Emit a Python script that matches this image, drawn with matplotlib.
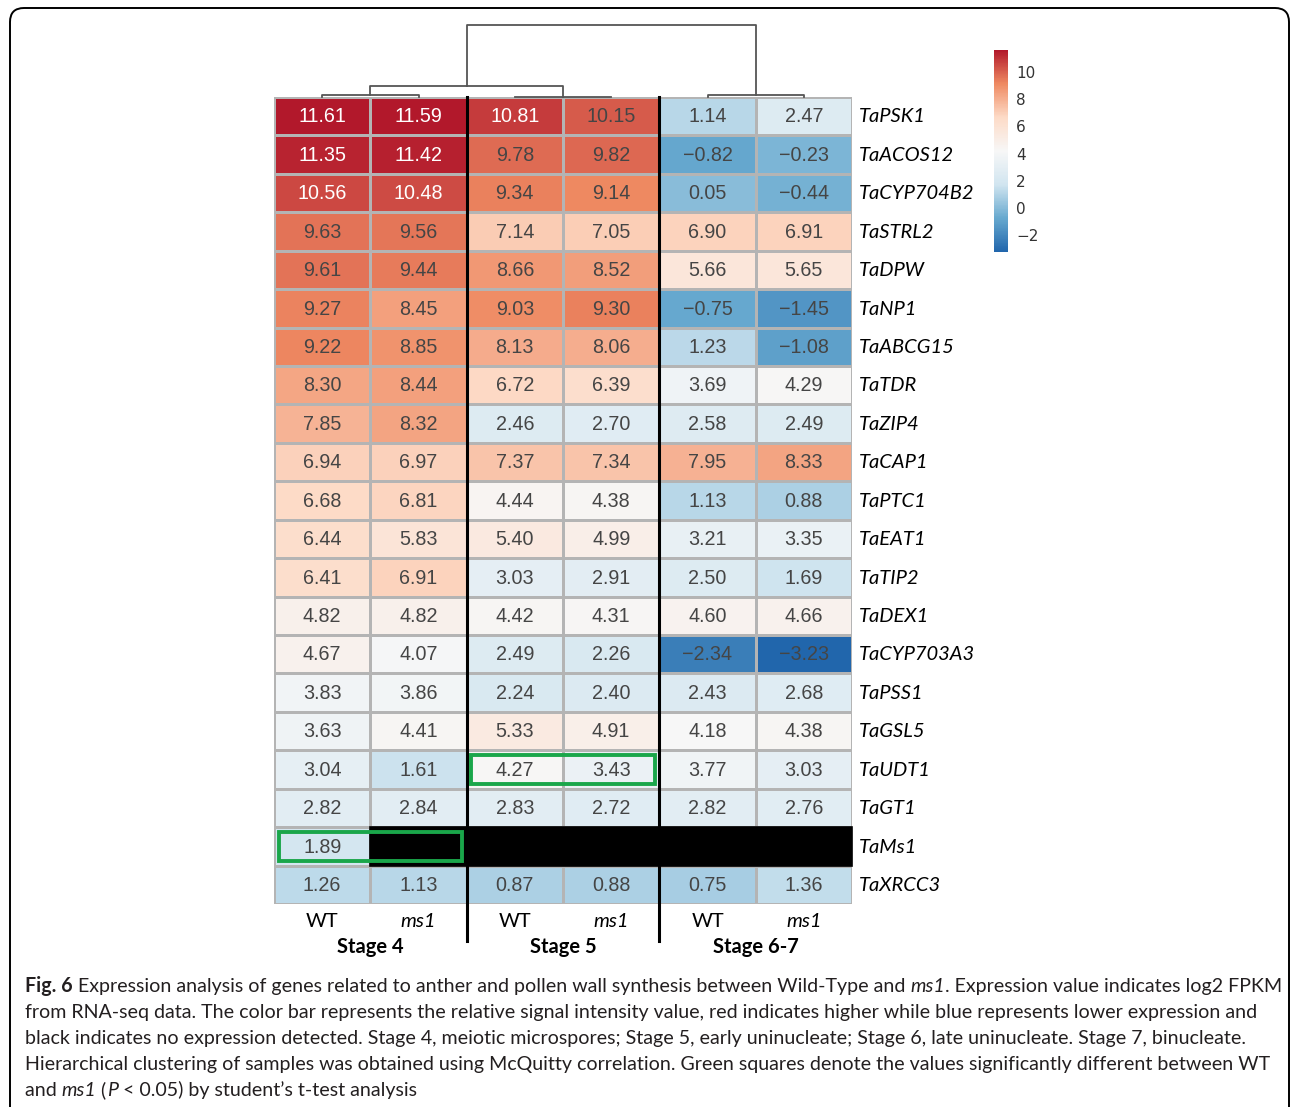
import numpy as np
import matplotlib
matplotlib.use("Agg")
import matplotlib.pyplot as plt
from matplotlib.colors import LinearSegmentedColormap
from matplotlib.patches import FancyBboxPatch, Rectangle
from matplotlib.transforms import IdentityTransform

# data
genes = ["TaPSK1", "TaACOS12", "TaCYP704B2", "TaSTRL2", "TaDPW", "TaNP1", "TaABCG15",
         "TaTDR", "TaZIP4", "TaCAP1", "TaPTC1", "TaEAT1", "TaTIP2", "TaDEX1",
         "TaCYP703A3", "TaPSS1", "TaGSL5", "TaUDT1", "TaGT1", "TaMs1", "TaXRCC3"]
samples = ["WT", "ms1", "WT", "ms1", "WT", "ms1"]
stages = ["Stage 4", "Stage 5", "Stage 6-7"]
nan = np.nan
values = np.array([
    [11.61, 11.59, 10.81, 10.15, 1.14, 2.47],
    [11.35, 11.42, 9.78, 9.82, -0.82, -0.23],
    [10.56, 10.48, 9.34, 9.14, 0.05, -0.44],
    [9.63, 9.56, 7.14, 7.05, 6.90, 6.91],
    [9.61, 9.44, 8.66, 8.52, 5.66, 5.65],
    [9.27, 8.45, 9.03, 9.30, -0.75, -1.45],
    [9.22, 8.85, 8.13, 8.06, 1.23, -1.08],
    [8.30, 8.44, 6.72, 6.39, 3.69, 4.29],
    [7.85, 8.32, 2.46, 2.70, 2.58, 2.49],
    [6.94, 6.97, 7.37, 7.34, 7.95, 8.33],
    [6.68, 6.81, 4.44, 4.38, 1.13, 0.88],
    [6.44, 5.83, 5.40, 4.99, 3.21, 3.35],
    [6.41, 6.91, 3.03, 2.91, 2.50, 1.69],
    [4.82, 4.82, 4.42, 4.31, 4.60, 4.66],
    [4.67, 4.07, 2.49, 2.26, -2.34, -3.23],
    [3.83, 3.86, 2.24, 2.40, 2.43, 2.68],
    [3.63, 4.41, 5.33, 4.91, 4.18, 4.38],
    [3.04, 1.61, 4.27, 3.43, 3.77, 3.03],
    [2.82, 2.84, 2.83, 2.72, 2.82, 2.76],
    [1.89, nan, nan, nan, nan, nan],
    [1.26, 1.13, 0.87, 0.88, 0.75, 1.36],
])
# significant cells: (row, first col, last col)
significant = [(19, 0, 1), (17, 2, 3)]
# sample clustering: (left node, right node, height); leaves 0..5, new nodes 6..
merges = [(0, 1, 0.03), (2, 3, 0.0), (6, 7, 0.15), (4, 5, 0.03), (8, 9, 1.0)]

W, H = 1292, 1107
fig = plt.figure(figsize=(W / 100, H / 100), dpi=100)

def px_axes(x0, y0, x1, y1):
    return fig.add_axes([x0 / W, 1 - y1 / H, (x1 - x0) / W, (y1 - y0) / H])

cmap = LinearSegmentedColormap.from_list(
    "rb", ["#2166ac", "#67a9cf", "#d1e5f0", "#f7f7f7", "#fddbc7", "#ef8a62", "#b2182b"])
cmap.set_bad("black")
vmin, vmax = np.nanmin(values), np.nanmax(values)
nrow, ncol = values.shape

# heatmap
ax = px_axes(274, 97, 852, 904)
data = np.ma.masked_invalid(values)
mesh = ax.pcolormesh(data, cmap=cmap, vmin=vmin, vmax=vmax,
                     edgecolors="#b4b4b4", linewidth=1)
ax.set_xlim(0, ncol)
ax.set_ylim(nrow, 0)
ax.axis("off")
ax.add_patch(Rectangle((0, 0), ncol, nrow, fill=False, edgecolor="#b4b4b4", lw=1.2))

# missing values: one solid black block per run
for i in range(nrow):
    j = 0
    while j < ncol:
        if np.isnan(values[i, j]):
            k = j
            while k < ncol and np.isnan(values[i, k]):
                k += 1
            ax.add_patch(Rectangle((j, i), k - j, 1, facecolor="black",
                                   edgecolor="black", lw=1.2, zorder=3, clip_on=False))
            j = k
        else:
            j += 1

for i in range(nrow):
    for j in range(ncol):
        v = values[i, j]
        if np.isnan(v):
            continue
        col = "white" if v > 10.3 else "#454545"
        ax.text(j + 0.5, i + 0.52, f"{v:.2f}".replace("-", "\u2212"), ha="center",
                va="center", fontsize=14.2, color=col, family="Liberation Sans")
    ax.text(ncol + 0.07, i + 0.52, genes[i], ha="left", va="center",
            fontsize=14.5, style="italic", family="Lato", color="black")

for r, c0, c1 in significant:
    ax.add_patch(Rectangle((c0 + 0.05, r + 0.12), c1 - c0 + 0.9, 0.76, fill=False,
                           edgecolor="#1aa64a", lw=2.8, zorder=5))

for k in (2, 4):
    ax.plot([k, k], [0, 21.95], color="black", lw=2.2, clip_on=False, zorder=6)

for j, s in enumerate(samples):
    ax.text(j + 0.5, 21.45, s, ha="center", va="center", fontsize=14.5, family="Lato",
            style="italic" if s == "ms1" else "normal")
for k, st in enumerate(stages):
    ax.text(2 * k + 1, 22.12, st, ha="center", va="center", fontsize=14.5,
            family="Lato", weight="bold")

# dendrogram
dax = px_axes(274, 25, 852, 97)
dax.set_xlim(0, ncol)
dax.set_ylim(0, 1)
dax.axis("off")
pos = {i: i + 0.5 for i in range(ncol)}
hgt = {i: 0.0 for i in range(ncol)}
node = ncol
for a, b, h in merges:
    xa, xb = pos[a], pos[b]
    dax.plot([xa, xa, xb, xb], [hgt[a], h, h, hgt[b]], color="#555555", lw=1.3,
             clip_on=False)
    pos[node] = (xa + xb) / 2
    hgt[node] = h
    node += 1

# colorbar
cax = px_axes(994, 50, 1008, 252)
cb = fig.colorbar(mesh, cax=cax, ticks=[10, 8, 6, 4, 2, 0, -2])
cb.outline.set_visible(False)
cb.ax.tick_params(length=0, labelsize=11, labelcolor="#333333", pad=6)
cb.ax.set_yticklabels(["10", "8", "6", "4", "2", "0", "\u22122"])

# frame
fig.patches.append(FancyBboxPatch((10, -30), 1279, H - 8 + 30,
                                  boxstyle="round,pad=0,rounding_size=14",
                                  transform=IdentityTransform(), fill=False,
                                  edgecolor="black", lw=1.4))

# caption
cap_font = "Lato"
caption = [
    [("Fig. 6", "bold"), (" Expression analysis of genes related to anther and pollen wall synthesis between Wild-Type and ", "normal"),
     ("ms1", "italic"), (". Expression value indicates log2 FPKM", "normal")],
    [("from RNA-seq data. The color bar represents the relative signal intensity value, red indicates higher while blue represents lower expression and", "normal")],
    [("black indicates no expression detected. Stage 4, meiotic microspores; Stage 5, early uninucleate; Stage 6, late uninucleate. Stage 7, binucleate.", "normal")],
    [("Hierarchical clustering of samples was obtained using McQuitty correlation. Green squares denote the values significantly different between WT", "normal")],
    [("and ", "normal"), ("ms1", "italic"), (" (", "normal"), ("P", "italic"),
     (" < 0.05) by student\u2019s t-test analysis", "normal")],
]
renderer = fig.canvas.get_renderer()

def draw_line(pieces, y, size, draw=True):
    x = 25
    for txt, sty in pieces:
        kw = dict(family=cap_font, fontsize=size, color="#231f20", va="baseline",
                  ha="left", transform=IdentityTransform())
        if sty == "bold":
            kw["weight"] = "bold"
        elif sty == "italic":
            kw["style"] = "italic"
        t = fig.text(x, y, txt.replace(" ", "\u00a0"), **kw)
        x += t.get_window_extent(renderer).width
        if not draw:
            t.remove()
    return x

# fit the widest caption line to the frame width
base = 14.5
widest = max(draw_line(p, 0, base, draw=False) - 25 for p in caption)
size = base * 1255 / widest
for li, pieces in enumerate(caption):
    draw_line(pieces, H - (992 + 26 * li), size)

fig.savefig("out.png", dpi=100)
